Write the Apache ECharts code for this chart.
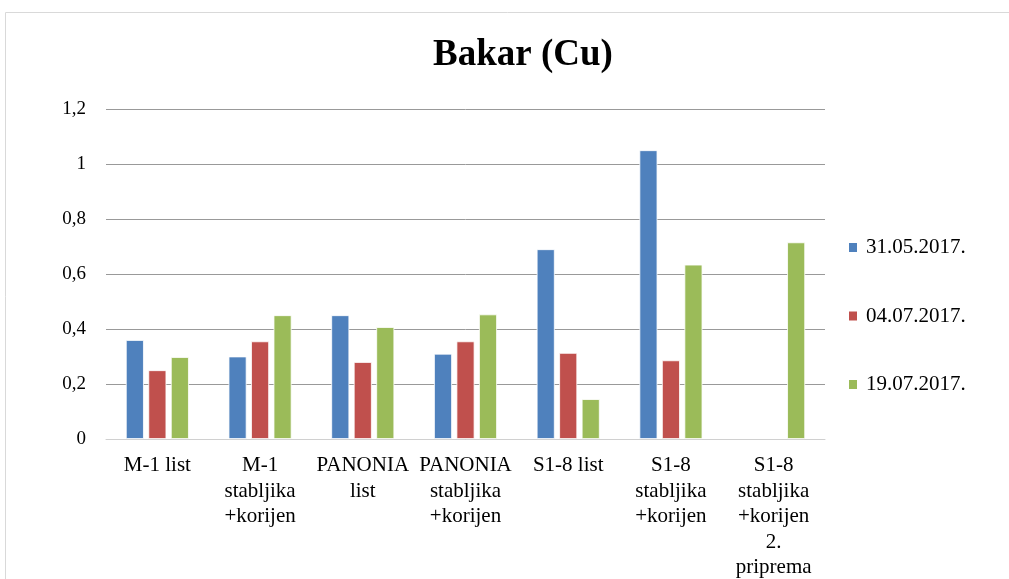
<!DOCTYPE html>
<html>
<head>
<meta charset="utf-8">
<script src="https://cdn.jsdelivr.net/npm/echarts@6/dist/echarts.min.js"></script>
<style>
html,body{margin:0;padding:0;background:#fff;}
#chart{width:1009px;height:579px;}
</style>
</head>
<body>
<div id="chart"></div>
<script>
const categories = [
  "M-1 list",
  "M-1\nstabljika\n+korijen",
  "PANONIA\nlist",
  "PANONIA\nstabljika\n+korijen",
  "S1-8 list",
  "S1-8\nstabljika\n+korijen",
  "S1-8\nstabljika\n+korijen\n2.\npriprema"
];
const seriesNames = ["31.05.2017.", "04.07.2017.", "19.07.2017."];
const s1 = [0.36, 0.30, 0.45, 0.31, 0.69, 1.05, null];
const s2 = [0.25, 0.355, 0.28, 0.355, 0.313, 0.286, null];
const s3 = [0.298, 0.45, 0.407, 0.453, 0.145, 0.634, 0.715];
const yTicks = ["0", "0,2", "0,4", "0,6", "0,8", "1", "1,2"];
const colors = ["#4F81BD", "#C0504D", "#9BBB59"];

const font = "Liberation Serif";
const chart = echarts.init(document.getElementById('chart'));
const mk = (name, data, color) => ({
  name, type: 'bar', data, barWidth: 18, barGap: '25%',
  itemStyle: { color, borderColor: '#ffffff', borderWidth: 0.8 }
});
chart.setOption({
  animation: false,
  graphic: [{
    type: 'rect', shape: { x: 5.5, y: 12.5, width: 1010, height: 600 },
    style: { fill: 'none', stroke: '#d9d9d9', lineWidth: 1 }, silent: true
  }],
  title: {
    text: 'Bakar (Cu)', left: 518, top: 32, textAlign: 'center',
    textStyle: { fontFamily: font, fontWeight: 'bold', fontSize: 37, color: '#000' }
  },
  legend: {
    orient: 'vertical', left: 847, top: 237, itemGap: 47.5, padding: 0,
    itemWidth: 10, itemHeight: 11, icon: 'rect',
    textStyle: { fontFamily: font, fontSize: 21, lineHeight: 21, color: '#000', padding: [0, 0, 0, 3] },
    data: seriesNames
  },
  grid: { left: 106, right: 184, top: 109, bottom: 140, outerBoundsMode: 'none', containLabel: false },
  xAxis: {
    type: 'category', data: categories,
    axisLine: { lineStyle: { color: '#d0d0d0', width: 1 } },
    axisTick: { show: false },
    axisLabel: { interval: 0, fontFamily: font, fontSize: 21, color: '#000', lineHeight: 25.5, margin: 14 }
  },
  yAxis: {
    type: 'value', min: 0, max: 1.2, interval: 0.2,
    axisLine: { show: false }, axisTick: { show: false },
    splitLine: { lineStyle: { color: '#999999', width: 1 } },
    axisLabel: {
      fontFamily: font, fontSize: 19, color: '#000', margin: 20,
      formatter: (v) => yTicks[Math.round(v / 0.2)]
    }
  },
  series: [mk(seriesNames[0], s1, colors[0]), mk(seriesNames[1], s2, colors[1]), mk(seriesNames[2], s3, colors[2])]
});
</script>
</body>
</html>
